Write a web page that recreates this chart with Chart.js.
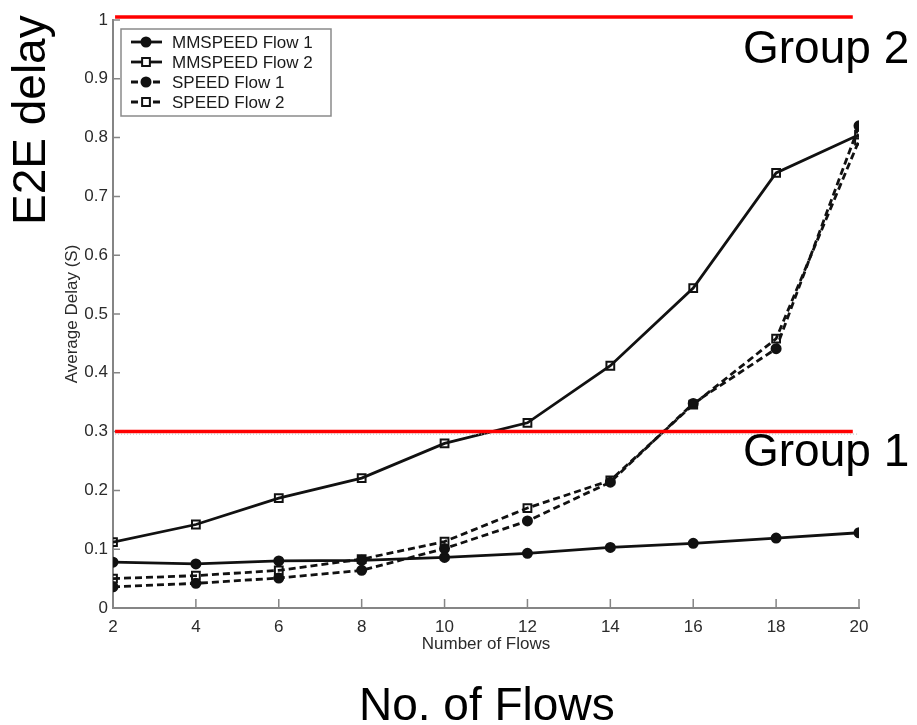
<!DOCTYPE html>
<html>
<head>
<meta charset="utf-8">
<script src="https://cdn.jsdelivr.net/npm/chart.js@4/dist/chart.umd.min.js"></script>
<style>
    body { margin: 0; background: #fff; }
    #wrap { position: relative; width: 917px; height: 725px; }
    .note {
        position: absolute;
        font: 46px "Liberation Sans", Arial, sans-serif;
        line-height: 1;
        color: #000;
        white-space: nowrap;
    }
    #e2e { left: 0; top: 0; transform-origin: 0 0; transform: translate(6px, 225px) rotate(-90deg); }
    #group2 { left: 743px; top: 24px; }
    #group1 { left: 743px; top: 427px; }
    #flows { left: 359px; top: 681px; }
</style>
</head>
<body>
<div id="wrap">
    <canvas id="delayChart" width="917" height="725"></canvas>
    <div class="note" id="e2e">E2E delay</div>
    <div class="note" id="group2">Group 2</div>
    <div class="note" id="group1">Group 1</div>
    <div class="note" id="flows">No. of Flows</div>
</div>
<script>
// average end-to-end delay (s) per number of flows
const flows = [2, 4, 6, 8, 10, 12, 14, 16, 18, 20];
const mmspeedFlow1 = [0.078, 0.075, 0.080, 0.081, 0.086, 0.093, 0.103, 0.110, 0.119, 0.128];
const mmspeedFlow2 = [0.112, 0.142, 0.187, 0.221, 0.280, 0.315, 0.412, 0.544, 0.740, 0.805];
const speedFlow1 = [0.036, 0.042, 0.051, 0.064, 0.101, 0.148, 0.214, 0.348, 0.441, 0.820];
const speedFlow2 = [0.050, 0.055, 0.064, 0.083, 0.113, 0.170, 0.217, 0.346, 0.458, 0.795];

// delay limits marking the two groups, and the x range they cover
const groupLimits = [0.3, 1.005];
const limitSpan = [2.05, 19.85];

const AXIS_GREY = "#858585";
const FONT = '"Liberation Sans", Arial, sans-serif';

Chart.defaults.font.family = FONT;
Chart.defaults.color = "#2b2b2b";

function series(label, values, shape, dashed) {
    return {
        label: label,
        data: values.map((v, i) => ({ x: flows[i], y: v })),
        borderColor: "#111",
        borderWidth: 2.8,
        borderDash: dashed ? [7, 4] : [],
        pointStyle: shape,
        pointRadius: shape === "rect" ? 5.5 : 4.5,
        pointBackgroundColor: shape === "rect" ? "rgba(255,255,255,0)" : "#111",
        pointBorderColor: "#111",
        pointBorderWidth: 2,
        tension: 0,
        fill: false,
    };
}

// MATLAB style tick marks pointing into the plot
const innerTicks = {
    id: "innerTicks",
    beforeDatasetsDraw(chart) {
        const { ctx, chartArea, scales } = chart;
        ctx.save();
        ctx.strokeStyle = AXIS_GREY;
        ctx.lineWidth = 1.5;
        ctx.beginPath();
        scales.x.ticks.forEach((t) => {
            const px = scales.x.getPixelForValue(t.value);
            ctx.moveTo(px, chartArea.bottom);
            ctx.lineTo(px, chartArea.bottom - 9);
        });
        scales.y.ticks.forEach((t) => {
            const py = scales.y.getPixelForValue(t.value);
            ctx.moveTo(chartArea.left, py);
            ctx.lineTo(chartArea.left + 7, py);
        });
        ctx.stroke();
        ctx.restore();
    },
};

// red group limit lines
const limitLines = {
    id: "limitLines",
    afterDatasetsDraw(chart) {
        const { ctx, scales } = chart;
        const x1 = scales.x.getPixelForValue(limitSpan[0]);
        const x2 = scales.x.getPixelForValue(limitSpan[1]);
        ctx.save();
        groupLimits.forEach((v) => {
            const py = scales.y.getPixelForValue(v);
            ctx.strokeStyle = "#ff0000";
            ctx.lineWidth = 3.5;
            ctx.beginPath();
            ctx.moveTo(x1, py);
            ctx.lineTo(x2, py);
            ctx.stroke();
        });
        // faint dotted grid line left under the lower limit
        const py = scales.y.getPixelForValue(groupLimits[0]) + 2.5;
        ctx.strokeStyle = "#b5b5b5";
        ctx.lineWidth = 1;
        ctx.setLineDash([1, 2]);
        ctx.beginPath();
        ctx.moveTo(x1, py);
        ctx.lineTo(scales.x.right, py);
        ctx.stroke();
        ctx.restore();
    },
};

// boxed legend in the top left corner of the plot
const boxedLegend = {
    id: "boxedLegend",
    afterDraw(chart) {
        const { ctx, chartArea } = chart;
        const x0 = chartArea.left + 8;
        const y0 = chartArea.top + 9;
        ctx.save();
        ctx.fillStyle = "#fff";
        ctx.fillRect(x0, y0, 210, 87);
        ctx.strokeStyle = "#8a8a8a";
        ctx.lineWidth = 1.5;
        ctx.strokeRect(x0, y0, 210, 87);
        ctx.font = "17px " + FONT;
        ctx.textBaseline = "middle";
        chart.data.datasets.forEach((ds, i) => {
            const y = y0 + 13 + i * 20;
            const mx = x0 + 25;
            ctx.strokeStyle = ds.borderColor;
            ctx.lineWidth = ds.borderWidth;
            ctx.setLineDash(ds.borderDash);
            ctx.beginPath();
            ctx.moveTo(x0 + 10, y);
            ctx.lineTo(x0 + 41, y);
            ctx.stroke();
            ctx.setLineDash([]);
            ctx.lineWidth = ds.pointBorderWidth;
            ctx.beginPath();
            if (ds.pointStyle === "rect") {
                const s = ds.pointRadius * Math.SQRT1_2;
                ctx.fillStyle = "#fff";
                ctx.rect(mx - s, y - s, 2 * s, 2 * s);
                ctx.fill();
                ctx.stroke();
            } else {
                ctx.fillStyle = ds.pointBackgroundColor;
                ctx.arc(mx, y, ds.pointRadius, 0, Math.PI * 2);
                ctx.fill();
                ctx.stroke();
            }
            ctx.fillStyle = "#1a1a1a";
            ctx.fillText(ds.label, x0 + 51, y + 1);
        });
        ctx.restore();
    },
};

new Chart(document.getElementById("delayChart"), {
    type: "line",
    data: {
        datasets: [
            series("MMSPEED Flow 1", mmspeedFlow1, "circle", false),
            series("MMSPEED Flow 2", mmspeedFlow2, "rect", false),
            series("SPEED Flow 1", speedFlow1, "circle", true),
            series("SPEED Flow 2", speedFlow2, "rect", true),
        ],
    },
    options: {
        responsive: false,
        animation: false,
        layout: { padding: { top: 20, right: 58, left: 0, bottom: 0 } },
        plugins: {
            legend: { display: false },
            tooltip: { enabled: false },
        },
        scales: {
            x: {
                type: "linear",
                min: 2,
                max: 20,
                grid: { display: false, drawTicks: false },
                border: { color: AXIS_GREY, width: 2 },
                ticks: { stepSize: 2, padding: 9, font: { size: 17 } },
                title: {
                    display: true,
                    text: "Number of Flows",
                    font: { size: 17 },
                    padding: { top: 0, bottom: 70 },
                },
                afterFit(scale) {
                    scale.height = 117;
                },
            },
            y: {
                min: 0,
                max: 1,
                grid: { display: false, drawTicks: false },
                border: { color: AXIS_GREY, width: 2 },
                ticks: {
                    stepSize: 0.1,
                    padding: 5,
                    font: { size: 17 },
                    callback: (v) => String(+v.toFixed(1)),
                },
                title: {
                    display: true,
                    text: "Average Delay (S)",
                    font: { size: 17 },
                    padding: { top: 62, bottom: 0 },
                },
                afterFit(scale) {
                    scale.width = 113;
                },
            },
        },
    },
    plugins: [innerTicks, limitLines, boxedLegend],
});
</script>
</body>
</html>
